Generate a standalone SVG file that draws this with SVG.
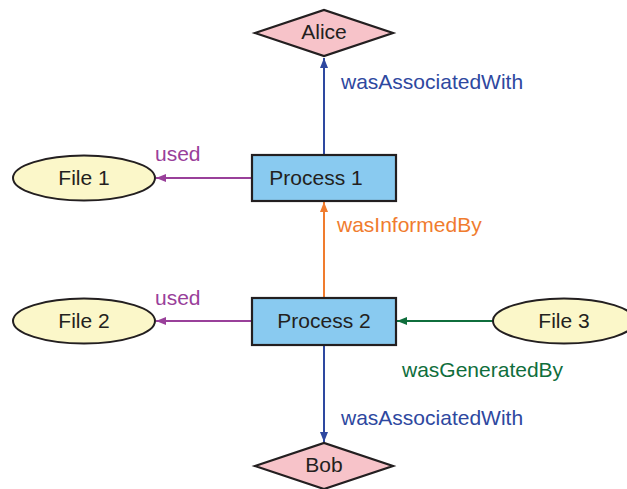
<svg xmlns="http://www.w3.org/2000/svg" width="627" height="489" viewBox="0 0 627 489">
<style>
text{font-family:"Liberation Sans",Arial,sans-serif;font-size:21px}
.n text{fill:#231f20;text-anchor:middle}
.agent{fill:#f7c3c9;stroke:#231f20;stroke-width:2.2}
.act{fill:#89caf0;stroke:#231f20;stroke-width:2.2}
.ent{fill:#fbf7c9;stroke:#231f20;stroke-width:2}
.e{fill:none;stroke-width:2}
.blue{stroke:#2e48a0}.purple{stroke:#99409a}.orange{stroke:#f07c2e}.green{stroke:#0f6e3c}
</style>
<defs>
<marker id="ab" viewBox="0 0 10 8" refX="10" refY="4" markerWidth="5" markerHeight="4" orient="auto" markerUnits="strokeWidth"><path d="M0,0L10,4L0,8z" fill="#2e48a0"/></marker>
<marker id="ap" viewBox="0 0 10 8" refX="10" refY="4" markerWidth="5" markerHeight="4" orient="auto" markerUnits="strokeWidth"><path d="M0,0L10,4L0,8z" fill="#99409a"/></marker>
<marker id="ao" viewBox="0 0 10 8" refX="10" refY="4" markerWidth="5" markerHeight="4" orient="auto" markerUnits="strokeWidth"><path d="M0,0L10,4L0,8z" fill="#f07c2e"/></marker>
<marker id="ag" viewBox="0 0 10 8" refX="10" refY="4" markerWidth="5" markerHeight="4" orient="auto" markerUnits="strokeWidth"><path d="M0,0L10,4L0,8z" fill="#0f6e3c"/></marker>
</defs>
<g id="connectors">
<line class="e blue" x1="324" y1="155" x2="324" y2="58" marker-end="url(#ab)"/>
<line class="e orange" x1="324" y1="298" x2="324" y2="202" marker-end="url(#ao)"/>
<line class="e blue" x1="324" y1="345" x2="324" y2="442" marker-end="url(#ab)"/>
<line class="e purple" x1="252" y1="178" x2="156" y2="178" marker-end="url(#ap)"/>
<line class="e purple" x1="252" y1="321" x2="156" y2="321" marker-end="url(#ap)"/>
<line class="e green" x1="493" y1="321" x2="397" y2="321" marker-end="url(#ag)"/>
<text x="341" y="89" fill="#2e48a0">wasAssociatedWith</text>
<text x="155" y="161" fill="#99409a">used</text>
<text x="337" y="232" fill="#f07c2e">wasInformedBy</text>
<text x="155" y="305" fill="#99409a">used</text>
<text x="402" y="377" fill="#0f6e3c">wasGeneratedBy</text>
<text x="341" y="425" fill="#2e48a0">wasAssociatedWith</text>
</g>
<g id="alice" class="n"><polygon class="agent" points="255,33 324,10 393,33 324,56"/><text x="324" y="39">Alice</text></g>
<g id="process1" class="n"><rect class="act" x="252" y="155" width="144" height="46"/><text x="316" y="185">Process 1</text></g>
<g id="file1" class="n"><ellipse class="ent" cx="84" cy="178" rx="71" ry="22.5"/><text x="84" y="185">File 1</text></g>
<g id="process2" class="n"><rect class="act" x="252" y="298" width="144" height="47"/><text x="324" y="328">Process 2</text></g>
<g id="file2" class="n"><ellipse class="ent" cx="84" cy="321" rx="71" ry="22.5"/><text x="84" y="328">File 2</text></g>
<g id="file3" class="n"><ellipse class="ent" cx="564" cy="321" rx="71" ry="22.5"/><text x="564" y="328">File 3</text></g>
<g id="bob" class="n"><polygon class="agent" points="255,466 324,443 393,466 324,489"/><text x="324" y="472">Bob</text></g>
</svg>
